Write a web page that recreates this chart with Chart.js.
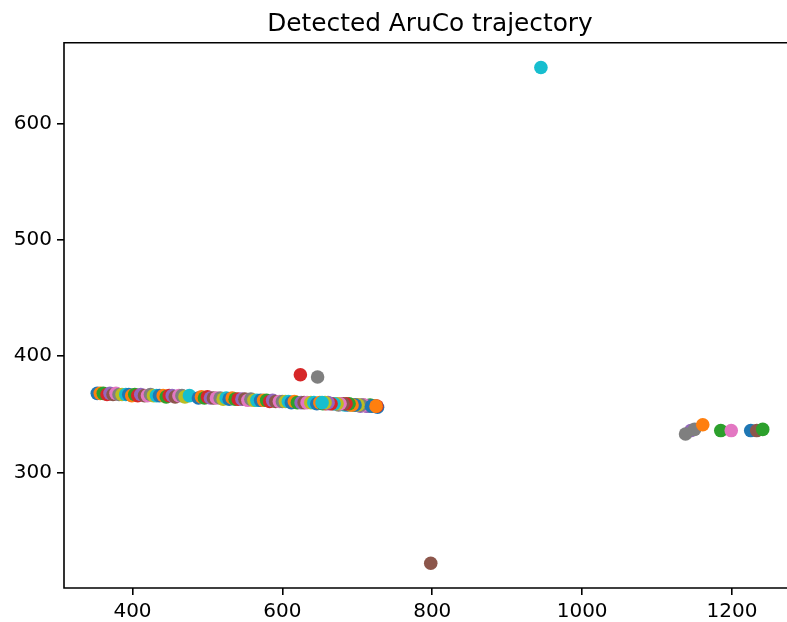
<!DOCTYPE html>
<html>
<head>
<meta charset="utf-8">
<title>Detected AruCo trajectory</title>
<script src="https://cdn.jsdelivr.net/npm/chart.js@4/dist/chart.umd.min.js"></script>
<style>
  html, body { margin: 0; padding: 0; background: #fff; overflow: hidden; }
  #wrap { width: 787px; height: 622px; overflow: hidden; }
</style>
</head>
<body>
<div id="wrap">
  <canvas id="TrajectoryChart" width="830" height="622"></canvas>
</div>
<script>
// detected marker centres, in the order they were plotted
const trajX = [
  353, 357, 361, 366, 370, 374, 378, 382, 386, 391,
  395, 399, 403, 407, 411, 416, 420, 424, 428, 432,
  436, 441, 445, 449, 453, 457, 462, 466, 470, 476,
  488, 492, 496, 500, 504, 508, 512, 517, 521, 525,
  529, 533, 537, 541, 546, 550, 554, 558, 562, 566,
  571, 575, 579, 583, 587, 591, 596, 600, 604, 608,
  612, 616, 620, 624, 625, 629, 633, 647, 638, 642,
  646, 650, 654, 658, 662, 667, 671, 675, 679, 683,
  687, 691, 696, 700, 704, 708, 712, 716, 720, 724,
  727, 721, 717, 726, 713, 798, 709, 705, 701, 945,
  697, 693, 689, 685, 1145, 681, 677, 1150, 673, 669,
  1225, 1161, 1185, 665, 661, 1233, 1199, 1138, 657, 653,
  719, 725, 1241
];
const trajY = [
  368, 368, 368, 367, 368, 367, 368, 367, 367, 367,
  367, 366, 367, 366, 367, 366, 366, 367, 366, 366,
  366, 366, 365, 366, 366, 365, 366, 366, 365, 366,
  364, 365, 364, 365, 364, 364, 364, 364, 363, 364,
  363, 364, 363, 363, 363, 363, 362, 363, 362, 362,
  362, 362, 362, 361, 362, 361, 361, 361, 361, 361,
  360, 361, 360, 384, 360, 360, 360, 382, 360, 360,
  359, 360, 359, 359, 359, 359, 359, 358, 359, 358,
  358, 358, 358, 358, 357, 358, 357, 357, 357, 357,
  356, 357, 358, 357, 357, 222, 358, 358, 358, 648,
  358, 358, 359, 359, 336, 359, 359, 337, 359, 359,
  336, 341, 336, 359, 360, 336, 336, 333, 360, 360,
  357, 357, 337
];

const xTicks = [400, 600, 800, 1000, 1200];
const yTicks = [300, 400, 500, 600];

// matplotlib default colour cycle
const tab10 = ['#1f77b4', '#ff7f0e', '#2ca02c', '#d62728', '#9467bd',
               '#8c564b', '#e377c2', '#7f7f7f', '#bcbd22', '#17becf'];

// matplotlib style 5% margins around the data
function padRange(vals) {
  const lo = Math.min(...vals), hi = Math.max(...vals);
  const m = (hi - lo) * 0.05;
  return [lo - m, hi + m];
}
const xRange = padRange(trajX);
const yRange = padRange(trajY);

const points = trajX.map((x, i) => ({ x: x, y: trajY[i] }));

// left, top and bottom spines, drawn over the points like matplotlib
// (the right one falls outside the cropped picture)
const spinesPlugin = {
  id: 'spines',
  afterDatasetsDraw(chart) {
    const a = chart.chartArea;
    const ctx = chart.ctx;
    ctx.save();
    ctx.strokeStyle = '#000';
    ctx.lineWidth = 1.6;
    ctx.beginPath();
    ctx.moveTo(a.right + 20, a.top);
    ctx.lineTo(a.left, a.top);
    ctx.lineTo(a.left, a.bottom);
    ctx.lineTo(a.right + 20, a.bottom);
    ctx.stroke();
    ctx.restore();
  }
};

const tickFont = { family: 'DejaVu Sans', size: 20 };

const config = {
  type: 'scatter',
  data: {
    datasets: [{
      data: points,
      pointRadius: 6.8,
      pointHoverRadius: 6.8,
      borderWidth: 0,
      backgroundColor: ctx => tab10[ctx.dataIndex % 10]
    }]
  },
  options: {
    responsive: false,
    animation: false,
    devicePixelRatio: 1,
    events: [],
    layout: { padding: { left: 0, right: 34, top: 0, bottom: 0 } },
    plugins: {
      legend: { display: false },
      tooltip: { enabled: false },
      title: {
        display: true,
        fullSize: false,
        text: 'Detected AruCo trajectory',
        color: '#000',
        font: { family: 'DejaVu Sans', size: 24.8, weight: 'normal' },
        padding: { top: 10, bottom: 3 }
      }
    },
    scales: {
      x: {
        type: 'linear',
        min: xRange[0],
        max: xRange[1],
        border: { display: false },
        grid: { drawOnChartArea: false, drawTicks: true, tickLength: 7, color: '#000', lineWidth: 1.6 },
        ticks: { color: '#000', font: tickFont, padding: 5, maxRotation: 0, callback: v => String(v) },
        afterBuildTicks: s => { s.ticks = xTicks.map(v => ({ value: v })); },
        afterFit: s => { s.height = 34; }
      },
      y: {
        type: 'linear',
        min: yRange[0],
        max: yRange[1],
        border: { display: false },
        grid: { drawOnChartArea: false, drawTicks: true, tickLength: 7, color: '#000', lineWidth: 1.6 },
        ticks: { color: '#000', font: tickFont, padding: 5, callback: v => String(v) },
        afterBuildTicks: s => { s.ticks = yTicks.map(v => ({ value: v })); },
        afterFit: s => { s.width = 64; }
      }
    }
  },
  plugins: [spinesPlugin]
};

const chart = new Chart(document.getElementById('TrajectoryChart'), config);
</script>
</body>
</html>
